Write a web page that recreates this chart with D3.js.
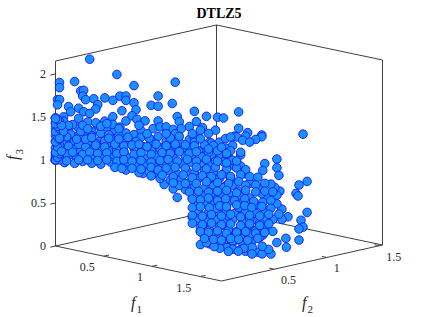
<!DOCTYPE html>
<meta charset="utf-8">
<style>
  html, body { margin: 0; background: #fff; }
  text { font-family: "Liberation Serif", serif; fill: #262626; }
</style>
<script src="https://d3js.org/d3.v7.min.js"></script>
<div id="my_dataviz"></div>
<script>

// values, one line per patch of the cloud
var f1Values = [
  0,0,0,0,0,.01,0,.01,0,.01,0,.01,.02,0,.01,.03,0,.02,0,.01,.03,0,.01,0,.02,0,.02,.03,.04,.05,
  .18,.32,.02,.02,.10,.13,.15,.14,.16,.20,.22,.21,.41,.63,.26,.30,.34,.37,.37,.41,.42,.35,.54,.50,.54,.61,.73,.79,.64,.01,.02,.01,.07,.12,.15,.18,.08,.04,.12,.04,.26,.30,.37,.40,.43,.47,.54,.65,.74,.70,.77,.76,.51,.55,.58,.62,.63,.45,.22,.27,.31,.07,.12,.17,.19,.15,.09,.24,.37,.41,.45,.54,.70,.73,.73,.81,.06,.17,.29,.33,.42,.46,.52,.56,.61,.67,.71,.78,
  .96,.85,.88,.84,.96,1.01,1.08,1.08,1.0,.94,.95,1.05,1.30,.93,.86,.82,.89,.85,.86,.91,.97,1.16,
  .64,.51,.46,.57,.62,.68,.72,.75,.72,.76,.76,.81,1.10,1.09,1.16,1.17,1.32,1.28,1.26,1.27,1.32,1.29,1.30,1.28,1.21,1.28,1.16,1.22,1.19,1.19,1.14,1.16,1.18,1.15,1.13,1.16,1.11,1.08,1.07,1.04,.99,1.02,.97,.94,.92,.86,.96,1.02,.97,1.03,1.10,1.09,1.14,1.10,1.05,1.02,.98,.94,.90,.90,.86,.85,.89,.94,.99,.85,.89,.94,
  .04,.09,.13,.18,.23,.28,.32,.36,.41,.50,.55,.60,.75,
  .03,.07,.11,.16,.20,.25,.30,.34,.38,.43,.48,.53,.58,.62,.68,.72,.77,.82,
  .05,.10,.14,.19,.24,.29,.33,.38,.42,.47,.52,.56,.61,.66,.71,.76,.81,
  .37,.44,.49,.54,.59,.64,.69,.73,.78,.83,.88,
  .55,.60,.66,.71,.75,.80,.84,.90,
  .65,.73,.78,.83,.88,.93,
  .74,.78,.82,.87,.91,.97,
  .78,.83,.92,.97,1.0,1.05,
  .75,.80,.84,.90,.96,1.0,1.05,1.10,
  .74,.79,.84,.88,.93,.98,1.02,1.07,
  .76,.81,.86,.91,.95,1.0,1.05,
  .78,.83,.88,.92,.97,1.02,1.07,
  .79,.84,.88,.93,.98,1.03,
  .04,.10,.21,.26,.31,.36,.50,.58,.65,
  .03,.08,.13,.19,.24,.28,.33,
  .09,.21,.24,.30,.34,
  .90,.97,1.02,1.09,1.14,1.19,1.25,1.29,1.36,1.26,1.28,1.10,1.15,1.08,1.24,1.12,1.05,.95,.88,
  .02,.07,.12,.16,.21,.26,.31,.36,.40,.44,.48,.53,.58,.63,.68,.73,.78,.83,
  .02,.06,.09,.14,.18,.22,.27,.32,.36,.41,.45,.50,.56,.60,.65,.70,.74,.80,.85,.90,
  .02,.06,.12,.17,.22,.27,.32,.36,.40,.45,.50,.55,.59,.64,.69,.74,.79,.84,.88,.93,
  .31,.35,.40,.45,.50,.54,.58,.63,.68,.74,.79,.84,.90,.95,1.0,
  .50,.56,.62,.67,.72,.77,.82,.87,.92,.97,1.02,1.06,
  .62,.68,.74,.79,.85,.91,.96,1.0,1.05,1.1,
  .70,.75,.80,.85,.90,.95,1.0,1.05,1.1,1.14,
  .72,.76,.80,.85,.89,.94,.99,1.04,1.09,1.13,
  .72,.76,.81,.86,.90,.95,.99,1.03,1.08,1.13,
  .72,.77,.82,.87,.92,.97,1.02,1.07,1.12,1.17,
  .72,.77,.82,.87,.92,.97,1.02,1.07,1.12,
  .76,.80,.85,.90,.95,1.0,1.05,1.1,
  .78,.83,.87,.92,.96,1.01,1.06,
  .02,.06,.11,.16,.19,.28,.33,.38,.49,.60,.65,.76,.89,.92,.98,1.02,
  .04,.07,.14,.17,.27,.33,.44,.48,.58,.66,.72,.80,
  .92,.97,.87,.90,.95,.80,.85,.90,
  0,.01,.02,0,.01,.03,0,.02,.01,.03,0,.02,.01,.04,0,.02,.03,.01,0,.02
];
var f2Values = [
  0,0,0,0,0,.01,0,.01,0,.01,0,.01,.02,0,.01,.03,0,.02,0,.01,.03,0,.01,0,.02,0,.02,.03,.04,.04,
  .16,.29,.02,.02,.09,.12,.13,.13,.14,.18,.20,.19,.37,.56,.23,.27,.30,.33,.33,.37,.38,.31,.48,.45,.48,.55,.65,.71,.57,.01,.02,.01,.06,.11,.13,.16,.07,.04,.11,.04,.23,.27,.33,.36,.38,.42,.48,.58,.66,.63,.69,.68,.46,.49,.52,.55,.56,.40,.20,.24,.28,.06,.11,.15,.17,.13,.08,.21,.33,.37,.40,.48,.63,.65,.65,.72,.05,.15,.26,.30,.38,.41,.46,.50,.55,.60,.63,.70,
  .86,.76,.79,.75,.86,.90,.97,.97,.89,.84,.85,.94,1.16,.83,.77,.73,.80,.76,.77,.81,.87,1.04,
  .57,.46,.41,.51,.55,.61,.64,.67,.64,.68,.68,.72,.98,.97,1.04,1.05,1.18,1.14,1.13,1.14,1.18,1.15,1.16,1.14,1.08,1.14,1.04,1.09,1.06,1.06,1.02,1.04,1.05,1.03,1.01,1.04,.99,.97,.96,.93,.89,.91,.87,.84,.82,.77,.86,.91,.87,.92,.98,.97,1.02,.98,.94,.91,.88,.84,.80,.80,.77,.76,.80,.84,.89,.76,.80,.84,
  .04,.08,.12,.16,.21,.25,.29,.32,.37,.45,.49,.54,.67,
  .03,.06,.10,.14,.18,.22,.27,.30,.34,.38,.43,.47,.52,.55,.61,.64,.69,.73,
  .04,.09,.13,.17,.21,.26,.30,.34,.38,.42,.46,.50,.55,.59,.63,.68,.72,
  .33,.39,.44,.48,.53,.57,.62,.65,.70,.74,.79,
  .49,.54,.59,.63,.67,.72,.75,.80,
  .58,.65,.70,.74,.79,.83,
  .66,.70,.73,.78,.81,.87,
  .70,.74,.82,.87,.89,.94,
  .67,.72,.75,.80,.86,.89,.94,.98,
  .66,.71,.75,.79,.83,.88,.91,.96,
  .68,.72,.77,.81,.85,.89,.94,
  .70,.74,.79,.82,.87,.91,.96,
  .71,.75,.79,.83,.88,.92,
  .04,.09,.19,.23,.28,.32,.45,.52,.58,
  .03,.07,.12,.17,.21,.25,.30,
  .08,.19,.21,.27,.30,
  .72,.74,.75,.76,.76,.77,.78,.78,.80,.87,1.02,.86,.91,.80,.73,.71,.68,.69,.70,
  .02,.06,.11,.14,.19,.23,.28,.32,.36,.39,.43,.47,.52,.56,.61,.65,.70,.74,
  .02,.05,.08,.13,.16,.20,.24,.29,.32,.37,.40,.45,.50,.54,.58,.63,.66,.72,.76,.80,
  .02,.05,.11,.15,.20,.24,.29,.32,.36,.40,.45,.49,.53,.57,.62,.66,.71,.75,.79,.83,
  .28,.31,.36,.40,.45,.48,.52,.56,.61,.66,.71,.75,.80,.85,.89,
  .45,.50,.55,.60,.64,.69,.73,.78,.82,.87,.91,.95,
  .55,.61,.66,.71,.76,.81,.86,.89,.94,.98,
  .63,.67,.72,.76,.80,.85,.89,.94,.98,1.02,
  .64,.68,.72,.76,.80,.84,.89,.93,.97,1.01,
  .64,.68,.72,.77,.80,.85,.89,.92,.97,1.01,
  .64,.69,.73,.78,.82,.87,.91,.96,1.0,1.05,
  .64,.69,.73,.78,.82,.87,.91,.96,1.0,
  .68,.72,.76,.80,.85,.89,.94,.98,
  .70,.74,.78,.82,.86,.90,.95,
  .02,.05,.10,.14,.17,.25,.30,.34,.44,.54,.58,.68,.80,.82,.88,.91,
  .04,.06,.13,.15,.24,.30,.39,.43,.52,.59,.64,.72,
  .82,.87,.78,.80,.85,.72,.76,.80,
  0,.01,.02,0,.01,.03,0,.02,.01,.03,0,.02,.01,.04,0,.02,.03,.01,0,.02
];
var f3Values = [
  1.0,1.0,1.0,1.01,1.01,1.02,1.03,1.04,1.05,1.06,1.08,1.10,1.12,1.14,1.17,1.19,1.22,1.25,1.28,1.31,1.34,1.37,1.40,1.43,1.46,1.49,1.02,1.06,1.13,1.2,
  2.17,1.99,1.90,1.84,1.91,1.80,1.81,1.74,1.70,1.71,1.64,1.59,1.86,1.90,1.72,1.69,1.74,1.74,1.69,1.66,1.58,1.57,1.74,1.63,1.62,1.65,1.56,1.50,1.50,1.70,1.70,1.64,1.62,1.60,1.56,1.54,1.56,1.50,1.48,1.45,1.45,1.50,1.45,1.51,1.47,1.45,1.45,1.44,1.44,1.38,1.37,1.34,1.36,1.38,1.38,1.35,1.30,1.34,1.40,1.38,1.34,1.34,1.37,1.44,1.33,1.27,1.28,1.23,1.31,1.29,1.26,1.27,1.23,1.26,1.20,1.20,1.19,1.20,1.20,1.16,1.21,1.15,1.16,1.14,1.14,1.14,1.14,1.13,
  1.55,1.49,1.48,1.34,1.36,1.31,1.28,1.26,1.27,1.27,1.26,1.23,1.29,1.16,1.20,1.19,1.13,1.08,1.05,1.02,1.05,1.00,
  .56,.83,.84,.71,.66,.65,.55,.49,.33,.16,.01,.02,.95,.87,.90,.81,.74,.70,.60,.57,.38,.29,.21,.19,.08,.06,.03,.33,.42,.30,.30,.48,.63,.67,.71,.58,.55,.60,.66,.74,.83,.72,.92,.92,.78,.78,.63,.55,.42,.42,.31,.12,.16,.20,.30,.23,.13,.14,.22,.34,.36,.55,.49,.37,.34,.10,.05,.05,
  1.11,1.13,1.10,1.12,1.14,1.10,1.12,1.09,1.13,1.10,1.12,1.09,1.10,
  1.03,1.05,1.02,1.06,1.03,1.04,1.02,1.05,1.02,1.04,1.01,1.03,1.05,1.02,1.04,1.01,1.03,1.05,
  .97,.96,.98,.96,.95,.97,.94,.96,.93,.95,.92,.96,.93,.95,.97,.93,.96,
  .88,.85,.86,.84,.87,.83,.86,.84,.87,.85,.83,
  .78,.76,.77,.74,.78,.75,.72,.70,
  .70,.68,.66,.69,.67,.70,
  .60,.58,.61,.57,.60,.57,
  .50,.47,.52,.48,.51,.47,
  .41,.38,.43,.40,.44,.39,.37,.41,
  .31,.27,.30,.26,.30,.27,.31,.26,
  .21,.18,.22,.18,.16,.20,.17,
  .12,.14,.11,.09,.08,.12,.09,
  .03,.04,.02,.05,.03,.04,
  1.2,1.22,1.19,1.22,1.24,1.19,1.22,1.21,1.20,
  1.31,1.30,1.33,1.28,1.31,1.29,1.28,
  1.41,1.43,1.39,1.41,1.38,
  .01,.01,0,.01,0,.01,.01,0,.01,.02,.01,.01,.02,.01,0,.01,0,.01,.01,
  1.17,1.16,1.18,1.15,1.17,1.15,1.18,1.16,1.17,1.18,1.15,1.18,1.16,1.18,1.17,1.16,1.17,1.16,
  1.08,1.07,1.09,1.06,1.09,1.07,1.08,1.07,1.09,1.06,1.08,1.06,1.08,1.07,1.09,1.07,1.09,1.08,1.10,1.06,
  1.0,.99,1.0,1.0,.99,1.0,.98,1.0,.98,.99,.97,.99,1.0,.98,1.0,.98,1.0,.98,.97,.99,
  .91,.90,.90,.89,.91,.88,.90,.91,.90,.91,.89,.91,.89,.90,.88,
  .81,.82,.80,.82,.79,.81,.80,.82,.80,.82,.80,.79,
  .73,.72,.72,.74,.73,.72,.74,.70,.70,.72,
  .62,.63,.62,.63,.64,.61,.64,.62,.63,.62,
  .54,.53,.55,.52,.54,.52,.54,.51,.50,.52,
  .44,.45,.44,.46,.45,.47,.46,.44,.45,.43,
  .35,.34,.36,.34,.36,.33,.35,.34,.36,.36,
  .26,.24,.26,.24,.25,.23,.25,.23,.25,
  .16,.15,.17,.14,.15,.16,.14,.15,
  .08,.07,.06,.08,.07,.06,.08,
  1.25,1.27,1.24,1.24,1.26,1.25,1.24,1.26,1.25,1.25,1.27,1.24,1.24,1.26,1.22,1.2,
  1.36,1.40,1.40,1.36,1.42,1.36,1.40,1.30,1.30,1.36,1.30,1.30,
  1.10,1.08,1.14,1.07,.98,1.12,.98,.96,
  1.0,1.03,1.07,1.09,1.15,1.1,1.21,1.24,1.27,1.3,1.33,1.36,1.39,1.33,1.42,1.45,1.4,1.47,1.48,1.25
];
var f1Ticks = [0.5, 1, 1.5];
var f2Ticks = [0.5, 1, 1.5];
var f3Ticks = [0, 0.5, 1, 1.5, 2];

var width = 423, height = 317;
var ink = "#404040";

var svg = d3.select("#my_dataviz")
  .append("svg")
    .attr("width", width)
    .attr("height", height)
    .style("display", "block");

// the box is drawn as three skewed axes, each with a horizontal and a vertical share
var f1Max = 1.72, f2Max = 1.53, f3Max = 2.15;
var x1 = d3.scaleLinear().domain([0, f1Max]).range([0, 166]);
var y1 = d3.scaleLinear().domain([0, f1Max]).range([0, 35]);
var x2 = d3.scaleLinear().domain([0, f2Max]).range([0, 161]);
var y2 = d3.scaleLinear().domain([0, f2Max]).range([0, -36]);
var y3 = d3.scaleLinear().domain([0, f3Max]).range([0, -185]);

function px(a, b, c) { return 55.5 + x1(a) + x2(b); }
function py(a, b, c) { return 246 + y1(a) + y2(b) + y3(c); }

function edge(a0, b0, c0, a1, b1, c1) {
  svg.append("line")
    .attr("x1", px(a0, b0, c0)).attr("y1", py(a0, b0, c0))
    .attr("x2", px(a1, b1, c1)).attr("y2", py(a1, b1, c1))
    .attr("stroke", ink)
    .attr("stroke-width", 1);
}

// back walls
edge(0, 0, 0, 0, f2Max, 0);
edge(0, f2Max, 0, f1Max, f2Max, 0);
edge(0, f2Max, 0, 0, f2Max, f3Max);
edge(0, f2Max, f3Max, 0, 0, f3Max);
edge(0, f2Max, f3Max, f1Max, f2Max, f3Max);
edge(0, 0, 0, 0, 0, f3Max);
edge(f1Max, f2Max, 0, f1Max, f2Max, f3Max);
// floor front
edge(0, 0, 0, f1Max, 0, 0);
edge(f1Max, 0, 0, f1Max, f2Max, 0);

// ticks
f1Ticks.forEach(function(t) {
  edge(t, 0, 0, t, 0.05, 0);
  svg.append("text")
    .attr("x", px(t, 0, 0) - 9)
    .attr("y", py(t, 0, 0) + 15)
    .attr("text-anchor", "end")
    .attr("font-size", 12)
    .text(t);
});
f2Ticks.forEach(function(t) {
  edge(f1Max, t, 0, f1Max - 0.05, t, 0);
  svg.append("text")
    .attr("x", px(f1Max, t, 0) + 7)
    .attr("y", py(f1Max, t, 0) + 15)
    .attr("font-size", 12)
    .text(t);
});
f3Ticks.forEach(function(t) {
  edge(0, 0, t, 0, -0.05, t);
  svg.append("text")
    .attr("x", 46)
    .attr("y", py(0, 0, t) + 4)
    .attr("text-anchor", "end")
    .attr("font-size", 12)
    .text(t);
});

// title and axis names
svg.append("text")
  .attr("x", 219).attr("y", 18)
  .attr("text-anchor", "middle")
  .attr("font-size", 14)
  .attr("font-weight", "bold")
  .style("fill", "#000")
  .text("DTLZ5");

function axisName(x, y, sub, rotate) {
  var t = svg.append("text")
    .attr("transform", "translate(" + x + "," + y + ")" + (rotate ? " rotate(-90)" : ""))
    .attr("font-size", 16);
  t.append("tspan").attr("font-style", "italic").text("f");
  t.append("tspan").attr("font-size", 11).attr("dy", 5).attr("dx", 1).text(sub);
}
axisName(131, 308, "1", false);
axisName(302, 308, "2", false);
axisName(18, 160, "3", true);

// the points
svg.append("g")
  .selectAll("circle")
  .data(d3.zip(f1Values, f2Values, f3Values))
  .enter()
  .append("circle")
    .attr("cx", function(d) { return px(d[0], d[1], d[2]); })
    .attr("cy", function(d) { return py(d[0], d[1], d[2]); })
    .attr("r", 4.3)
    .style("fill", "#1a90ff")
    .style("stroke", "#1414ff")
    .style("stroke-width", 0.9);

</script>
